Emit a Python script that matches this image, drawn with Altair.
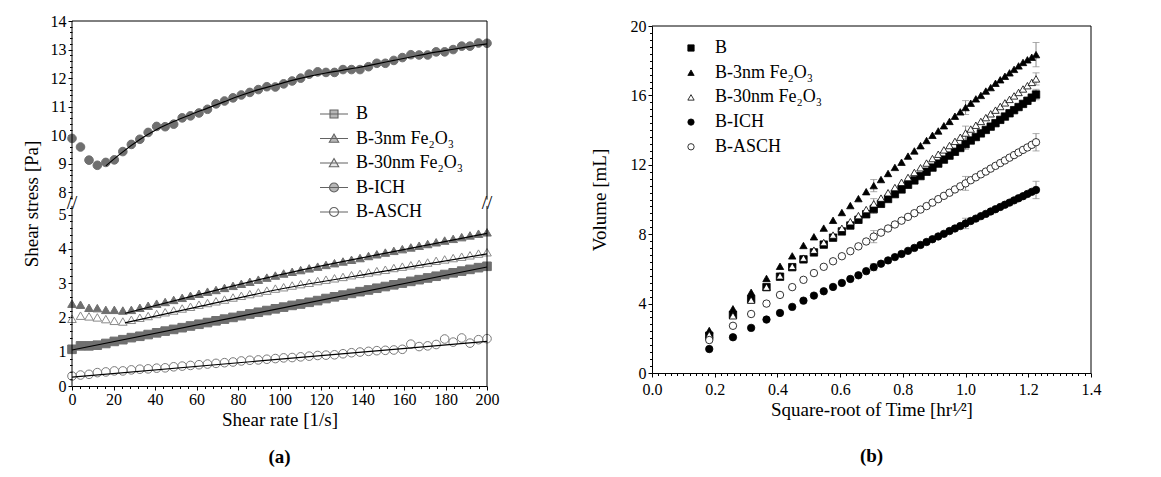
import altair as alt
import pandas as pd

FONT = "Liberation Serif"
SERIES = ["B", "B-3nm Fe₂O₃", "B-30nm Fe₂O₃", "B-ICH", "B-ASCH"]

# ---------------- panel (a): shear stress vs shear rate ----------------
a_x = [0, 4.1, 8.2, 12.2, 16.3, 20.4, 24.5, 28.6, 32.7, 36.7,
       40.8, 44.9, 49.0, 53.1, 57.1, 61.2, 65.3, 69.4, 73.5, 77.6,
       81.6, 85.7, 89.8, 93.9, 98.0, 102.0, 106.1, 110.2, 114.3, 118.4,
       122.4, 126.5, 130.6, 134.7, 138.8, 142.9, 146.9, 151.0, 155.1, 159.2,
       163.3, 167.3, 171.4, 175.5, 179.6, 183.7, 187.8, 191.8, 195.9, 200.0]
a_B = [1.07, 1.17, 1.17, 1.19, 1.24, 1.3, 1.35, 1.41, 1.45, 1.5,
       1.55, 1.6, 1.65, 1.7, 1.75, 1.8, 1.85, 1.9, 1.95, 2.0,
       2.05, 2.1, 2.15, 2.2, 2.25, 2.3, 2.35, 2.39, 2.44, 2.49,
       2.55, 2.6, 2.65, 2.7, 2.75, 2.8, 2.85, 2.9, 2.95, 3.0,
       3.05, 3.1, 3.15, 3.2, 3.25, 3.3, 3.35, 3.4, 3.45, 3.49]
a_3nm = [2.4, 2.37, 2.28, 2.27, 2.22, 2.22, 2.2, 2.22, 2.28, 2.34,
         2.4, 2.45, 2.51, 2.57, 2.63, 2.69, 2.75, 2.8, 2.86, 2.92,
         2.98, 3.04, 3.1, 3.16, 3.22, 3.28, 3.33, 3.38, 3.43, 3.48,
         3.53, 3.58, 3.63, 3.68, 3.73, 3.79, 3.84, 3.89, 3.94, 3.99,
         4.04, 4.09, 4.14, 4.19, 4.24, 4.29, 4.34, 4.39, 4.44, 4.48]
a_30nm = [1.96, 2.05, 2.03, 2.0, 1.95, 1.9, 1.88, 1.93, 1.99, 2.04,
          2.1, 2.15, 2.2, 2.26, 2.31, 2.37, 2.42, 2.47, 2.52, 2.58,
          2.63, 2.68, 2.73, 2.78, 2.84, 2.88, 2.93, 2.97, 3.01, 3.06,
          3.1, 3.14, 3.18, 3.23, 3.27, 3.31, 3.35, 3.39, 3.44, 3.48,
          3.52, 3.56, 3.6, 3.65, 3.69, 3.73, 3.77, 3.81, 3.86, 3.9]
a_ICH = [9.89, 9.59, 9.13, 8.95, 9.05, 9.14, 9.43, 9.68, 9.86, 10.1,
         10.31, 10.3, 10.39, 10.61, 10.68, 10.78, 10.91, 11.1, 11.2, 11.31,
         11.41, 11.5, 11.6, 11.7, 11.69, 11.8, 11.9, 12.0, 12.14, 12.22,
         12.2, 12.2, 12.3, 12.3, 12.3, 12.4, 12.52, 12.52, 12.62, 12.72,
         12.82, 12.81, 12.81, 12.92, 12.92, 13.0, 13.12, 13.12, 13.23, 13.22]
a_ASCH = [0.29, 0.32, 0.34, 0.39, 0.41, 0.44, 0.44, 0.47, 0.49, 0.5,
          0.52, 0.53, 0.56, 0.58, 0.6, 0.62, 0.64, 0.66, 0.68, 0.7,
          0.73, 0.75, 0.76, 0.78, 0.8, 0.82, 0.83, 0.85, 0.87, 0.89,
          0.9, 0.91, 0.94, 0.97, 0.99, 1.01, 1.03, 1.04, 1.05, 1.07,
          1.22, 1.15, 1.17, 1.21, 1.37, 1.28, 1.4, 1.25, 1.35, 1.38]

fit_B_x = [0, 200]
fit_B_y = [1.05, 3.47]
fit_3nm_x = [25.5, 60, 100, 150, 200]
fit_3nm_y = [2.12, 2.65, 3.24, 3.86, 4.45]
fit_30nm_x = [25.5, 60, 100, 150, 200]
fit_30nm_y = [1.84, 2.3, 2.82, 3.34, 3.85]
fit_ICH_x = [16.3, 24.5, 32.7, 40.8, 49.0, 57.1, 65.3, 73.5, 81.6, 89.8,
             98.0, 106.1, 114.3, 122.4, 130.6, 138.8, 146.9, 155.1, 163.3, 171.4,
             179.6, 187.8, 195.9, 200.0]
fit_ICH_y = [8.93, 9.42, 9.85, 10.2, 10.48, 10.72, 10.95, 11.18, 11.4, 11.6,
             11.76, 11.92, 12.06, 12.18, 12.28, 12.38, 12.5, 12.62, 12.74, 12.86,
             12.96, 13.06, 13.16, 13.2]
fit_ASCH_x = [0, 200]
fit_ASCH_y = [0.26, 1.3]

a_break = [5.25, 7.75]
a_xmax = 200
a_ymax = 14
a_xticks = [0, 20, 40, 60, 80, 100, 120, 140, 160, 180, 200]
a_yticks = [0, 1, 2, 3, 4, 5, 8, 9, 10, 11, 12, 13, 14]

# ---------------- panel (b): volume vs sqrt(time) ----------------
b_x = [0.1826, 0.2582, 0.3162, 0.3651, 0.4082, 0.4472, 0.4830, 0.5164, 0.5477, 0.5774,
       0.6055, 0.6325, 0.6583, 0.6831, 0.7071, 0.7303, 0.7528, 0.7746, 0.7958, 0.8165,
       0.8367, 0.8563, 0.8756, 0.8944, 0.9129, 0.9309, 0.9487, 0.9661, 0.9832, 1.0,
       1.0165, 1.0328, 1.0488, 1.0646, 1.0801, 1.0954, 1.1106, 1.1255, 1.1402, 1.1547,
       1.1690, 1.1832, 1.1972, 1.2111, 1.2247]
b_B = [2.15, 3.35, 4.25, 4.95, 5.55, 6.1, 6.55, 6.95, 7.4, 7.8,
       8.16, 8.5, 8.83, 9.15, 9.45, 9.75, 10.03, 10.31, 10.58, 10.85,
       11.1, 11.35, 11.6, 11.84, 12.07, 12.3, 12.53, 12.75, 12.97, 13.19,
       13.4, 13.6, 13.81, 14.01, 14.2, 14.4, 14.59, 14.78, 14.97, 15.15,
       15.33, 15.51, 15.69, 15.87, 16.05]
b_3nm = [2.45, 3.7, 4.65, 5.45, 6.15, 6.75, 7.35, 7.85, 8.35, 8.8,
         9.25, 9.65, 10.05, 10.45, 10.8, 11.15, 11.5, 11.85, 12.15, 12.5,
         12.8, 13.1, 13.4, 13.7, 13.95, 14.25, 14.5, 14.8, 15.05, 15.3,
         15.55, 15.8, 16.0, 16.25, 16.45, 16.7, 16.9, 17.1, 17.3, 17.5,
         17.7, 17.9, 18.05, 18.2, 18.35]
b_30nm = [2.2, 3.3, 4.2, 4.95, 5.6, 6.15, 6.62, 7.08, 7.52, 7.95,
          8.34, 8.72, 9.07, 9.42, 9.75, 10.08, 10.39, 10.69, 10.99, 11.27,
          11.56, 11.83, 12.1, 12.36, 12.61, 12.86, 13.11, 13.35, 13.59, 13.83,
          14.06, 14.28, 14.5, 14.72, 14.94, 15.15, 15.36, 15.57, 15.77, 15.97,
          16.17, 16.37, 16.56, 16.75, 16.95]
b_ICH = [1.38, 2.06, 2.6, 3.08, 3.46, 3.81, 4.17, 4.46, 4.71, 4.96,
         5.19, 5.42, 5.63, 5.87, 6.1, 6.3, 6.49, 6.68, 6.86, 7.04,
         7.21, 7.38, 7.55, 7.71, 7.87, 8.02, 8.18, 8.33, 8.47, 8.62,
         8.76, 8.9, 9.04, 9.17, 9.31, 9.44, 9.57, 9.7, 9.82, 9.95,
         10.07, 10.19, 10.32, 10.44, 10.55]
b_ASCH = [1.9, 2.72, 3.4, 4.0, 4.5, 4.95, 5.37, 5.76, 6.12, 6.44,
          6.73, 7.02, 7.3, 7.58, 7.86, 8.09, 8.33, 8.56, 8.78, 9.0,
          9.21, 9.42, 9.62, 9.82, 10.02, 10.21, 10.39, 10.58, 10.76, 10.93,
          11.11, 11.28, 11.45, 11.61, 11.78, 11.94, 12.1, 12.25, 12.41, 12.56,
          12.71, 12.86, 13.0, 13.15, 13.3]
b_err_idx = [14, 29, 44]
b_err_B = [0.25, 0.3, 0.3]
b_err_3nm = [0.35, 0.4, 0.7]
b_err_30nm = [0.3, 0.4, 0.35]
b_err_ICH = [0.2, 0.3, 0.5]
b_err_ASCH = [0.35, 0.4, 0.5]
b_xmax = 1.4
b_ymax = 20
b_xticks = [0.0, 0.2, 0.4, 0.6, 0.8, 1.0, 1.2, 1.4]
b_yticks = [0, 4, 8, 12, 16, 20]


# ---------------- tables ----------------
def long_df(xs_list, ys_list):
    rows = []
    for name, xs, ys in zip(SERIES, xs_list, ys_list):
        for x, y in zip(xs, ys):
            rows.append({"x": x, "y": y, "series": name})
    return pd.DataFrame(rows)


pts_a = long_df([a_x] * 5, [a_B, a_3nm, a_30nm, a_ICH, a_ASCH])
fit_a = long_df([fit_B_x, fit_3nm_x, fit_30nm_x, fit_ICH_x, fit_ASCH_x],
                [fit_B_y, fit_3nm_y, fit_30nm_y, fit_ICH_y, fit_ASCH_y])
pts_b = long_df([b_x] * 5, [b_B, b_3nm, b_30nm, b_ICH, b_ASCH])

err_rows = []
for name, ys, errs in zip(SERIES, [b_B, b_3nm, b_30nm, b_ICH, b_ASCH],
                          [b_err_B, b_err_3nm, b_err_30nm, b_err_ICH, b_err_ASCH]):
    for i, e in zip(b_err_idx, errs):
        err_rows.append({"x": b_x[i], "lo": ys[i] - e, "hi": ys[i] + e, "series": name})
err_b = pd.DataFrame(err_rows)

frame_a_side = pd.DataFrame({"x": [0, a_xmax, 0, a_xmax],
                             "y": [0, 0, a_break[1], a_break[1]],
                             "y2": [a_break[0], a_break[0], a_ymax, a_ymax]})
frame_a_top = pd.DataFrame({"x": [0], "x2": [a_xmax], "y": [a_ymax]})
break_a = pd.DataFrame({"x": [0, a_xmax], "y": [sum(a_break) / 2] * 2})

frame_b_top = pd.DataFrame({"x": [0], "x2": [b_xmax], "y": [b_ymax]})
frame_b_side = pd.DataFrame({"x": [b_xmax], "y": [0], "y2": [b_ymax]})

MAJOR = 4
MINOR = 2.5


def major_axis(values, title, orient, title_pad, label_pad, fmt=None, domain=True):
    kw = dict(values=values, title=title, orient=orient, tickSize=MAJOR, labelPadding=label_pad,
              titlePadding=title_pad, labelFlush=False, labelOverlap=False, domain=domain)
    if fmt:
        kw["format"] = fmt
    return alt.Axis(**kw)


def minor_axis(values, orient):
    return alt.Axis(values=values, orient=orient, tickSize=MINOR, labels=False,
                    domain=False, title=None, grid=False)


# ---------------- panel (a) chart ----------------
AW, AH = 415, 365
LOW_PPU, UP_PPU = 34.3, 28.57
xa_scale = alt.Scale(domain=[0, a_xmax], nice=False, zero=False)
ya_scale = alt.Scale(domain=[0, a_break[0], a_break[1], a_ymax],
                     range=[AH, AH - a_break[0] * LOW_PPU, (a_ymax - a_break[1]) * UP_PPU, 0],
                     nice=False, zero=False)

xa_minor = [v for v in range(0, 201, 4) if v % 20 != 0]
ya_minor = [round(i * 0.2, 1) for i in range(0, 27) if i % 5 != 0] + \
           [round(7.8 + i * 0.2, 1) for i in range(0, 32) if (i - 1) % 5 != 0]

shape_a = ["square", "triangle-up", "triangle-up", "circle", "circle"]
fill_a = ["#6f6f6f", "#6f6f6f", "transparent", "#6f6f6f", "transparent"]
stroke_a = ["#6f6f6f", "#6f6f6f", "#8a8a8a", "#6f6f6f", "#7a7a7a"]

points_a = alt.Chart(pts_a).mark_point(size=74, strokeWidth=1, opacity=1).encode(
    x=alt.X("x:Q", scale=xa_scale,
            axis=major_axis(a_xticks, "Shear rate [1/s]", "bottom", 3, 1)),
    y=alt.Y("y:Q", scale=ya_scale,
            axis=major_axis(a_yticks, "Shear stress [Pa]", "left", 9, 2, domain=False)),
    shape=alt.Shape("series:N", scale=alt.Scale(domain=SERIES, range=shape_a), legend=None),
    fill=alt.Fill("series:N", scale=alt.Scale(domain=SERIES, range=fill_a), legend=None),
    stroke=alt.Stroke("series:N", scale=alt.Scale(domain=SERIES, range=stroke_a), legend=None),
)
fits_a = alt.Chart(fit_a).mark_line(color="black", strokeWidth=1.2, interpolate="monotone").encode(
    x=alt.X("x:Q", scale=xa_scale, axis=minor_axis(xa_minor, "bottom")),
    y=alt.Y("y:Q", scale=ya_scale, axis=minor_axis(ya_minor, "left")),
    detail="series:N")

frame_side_a = alt.Chart(frame_a_side).mark_rule(color="black", strokeWidth=1).encode(
    x=alt.X("x:Q", axis=None), y=alt.Y("y:Q", axis=None), y2="y2:Q")
frame_top_a = alt.Chart(frame_a_top).mark_rule(color="black", strokeWidth=1).encode(
    x=alt.X("x:Q", axis=None), x2="x2:Q", y=alt.Y("y:Q", axis=None))
breaks_a = alt.Chart(break_a).mark_text(text="//", fontSize=19, font=FONT, color="black").encode(
    x=alt.X("x:Q", axis=None), y=alt.Y("y:Q", axis=None))

leg_paths_a = [
    "M-1.4,0H1.4M-0.4,-0.4H0.4V0.4H-0.4Z",
    "M-1.4,0H1.4M0,-0.45L0.47,0.37H-0.47Z",
    "M-1.4,0H1.4M0,-0.45L0.47,0.37H-0.47Z",
    "M-1.4,0H1.4M0.45,0A0.45,0.45 0 1,1 -0.45,0A0.45,0.45 0 1,1 0.45,0Z",
    "M-1.4,0H1.4M0.45,0A0.45,0.45 0 1,1 -0.45,0A0.45,0.45 0 1,1 0.45,0Z",
]
leg_fill_a = ["#6f6f6f", "#6f6f6f", "#d0d0d0", "#6f6f6f", "#ffffff"]
leg_a = alt.Legend(orient="none", legendX=251, legendY=82, title=None,
                   labelFont=FONT, labelFontSize=18, labelColor="black",
                   symbolSize=400, symbolStrokeWidth=1.1, labelOffset=11, rowPadding=4.5)
legend_layer_a = alt.Chart(pts_a).mark_point().encode(
    x=alt.X("x:Q", axis=None), y=alt.Y("y:Q", axis=None),
    shape=alt.Shape("series:N", scale=alt.Scale(domain=SERIES, range=leg_paths_a), legend=leg_a),
    fill=alt.Fill("series:N", scale=alt.Scale(domain=SERIES, range=leg_fill_a), legend=leg_a),
    stroke=alt.Stroke("series:N", scale=alt.Scale(domain=SERIES, range=["#222222"] * 5), legend=leg_a),
).transform_filter("false")

chart_a = alt.layer(points_a, fits_a, frame_side_a, frame_top_a, breaks_a, legend_layer_a).resolve_scale(
    shape="independent", fill="independent", stroke="independent"
).resolve_axis(x="independent", y="independent").properties(
    width=AW, height=AH,
    title=alt.TitleParams("(a)", orient="bottom", font=FONT, fontSize=19,
                          fontWeight="bold", offset=19, color="black"))

# ---------------- panel (b) chart ----------------
BW, BH = 439, 352
xb_scale = alt.Scale(domain=[0, b_xmax], nice=False, zero=False)
yb_scale = alt.Scale(domain=[0, b_ymax], range=[BH, 5], nice=False, zero=False)
xb_minor = [round(i * 0.02, 2) for i in range(0, 71) if i % 10 != 0]
yb_minor = [round(i * 0.4, 1) for i in range(0, 51) if i % 10 != 0]

shape_b = ["square", "triangle-up", "triangle-up", "circle", "circle"]
fill_b = ["black", "black", "white", "black", "white"]
leg_b = alt.Legend(orient="none", legendX=30, legendY=18, title=None,
                   labelFont=FONT, labelFontSize=18, labelColor="black",
                   symbolSize=40, symbolStrokeWidth=0.8, labelOffset=15, rowPadding=6.7)

err_rule_b = alt.Chart(err_b).mark_rule(color="#8a8a8a", strokeWidth=1).encode(
    x=alt.X("x:Q", scale=xb_scale, axis=None),
    y=alt.Y("lo:Q", scale=yb_scale, axis=None), y2="hi:Q")
err_lo_b = alt.Chart(err_b).mark_tick(color="#8a8a8a", orient="horizontal", size=7, thickness=1).encode(
    x=alt.X("x:Q", scale=xb_scale, axis=minor_axis(xb_minor, "bottom")),
    y=alt.Y("lo:Q", scale=yb_scale, axis=minor_axis(yb_minor, "left")))
err_hi_b = alt.Chart(err_b).mark_tick(color="#8a8a8a", orient="horizontal", size=7, thickness=1).encode(
    x=alt.X("x:Q", axis=None), y=alt.Y("hi:Q", axis=None))
points_b = alt.Chart(pts_b).mark_point(size=55, strokeWidth=0.8, opacity=1).encode(
    x=alt.X("x:Q", scale=xb_scale,
            axis=major_axis(b_xticks, "Square-root of Time [hr¹⁄²]", "bottom", 3, 4, fmt=".1f")),
    y=alt.Y("y:Q", scale=yb_scale,
            axis=major_axis(b_yticks, "Volume [mL]", "left", 21, 2)),
    shape=alt.Shape("series:N", scale=alt.Scale(domain=SERIES, range=shape_b), legend=leg_b),
    fill=alt.Fill("series:N", scale=alt.Scale(domain=SERIES, range=fill_b), legend=leg_b),
    stroke=alt.Stroke("series:N", scale=alt.Scale(domain=SERIES, range=["black"] * 5), legend=leg_b),
)
frame_top_b = alt.Chart(frame_b_top).mark_rule(color="black", strokeWidth=1).encode(
    x=alt.X("x:Q", axis=None), x2="x2:Q", y=alt.Y("y:Q", axis=None))
frame_side_b = alt.Chart(frame_b_side).mark_rule(color="black", strokeWidth=1).encode(
    x=alt.X("x:Q", axis=None), y=alt.Y("y:Q", axis=None), y2="y2:Q")

chart_b = alt.layer(err_rule_b, err_lo_b, err_hi_b, points_b, frame_top_b, frame_side_b).resolve_axis(
    x="independent", y="independent"
).properties(
    width=BW, height=BH,
    title=alt.TitleParams("(b)", orient="bottom", font=FONT, fontSize=19,
                          fontWeight="bold", offset=28, color="black"))

chart = alt.hconcat(chart_a, chart_b, spacing=165, bounds="flush").resolve_scale(
    shape="independent", fill="independent", stroke="independent"
).properties(
    padding={"left": 14, "top": 5, "right": 5, "bottom": 5}
).configure_view(strokeWidth=0).configure_axis(
    labelFont=FONT, titleFont=FONT, labelFontSize=16, titleFontSize=19,
    titleFontWeight="normal", labelColor="black", titleColor="black",
    domainColor="black", tickColor="black", domainWidth=1, tickWidth=1, grid=False
)

chart.save("out.html", embed_options={"renderer": "svg", "actions": False})
